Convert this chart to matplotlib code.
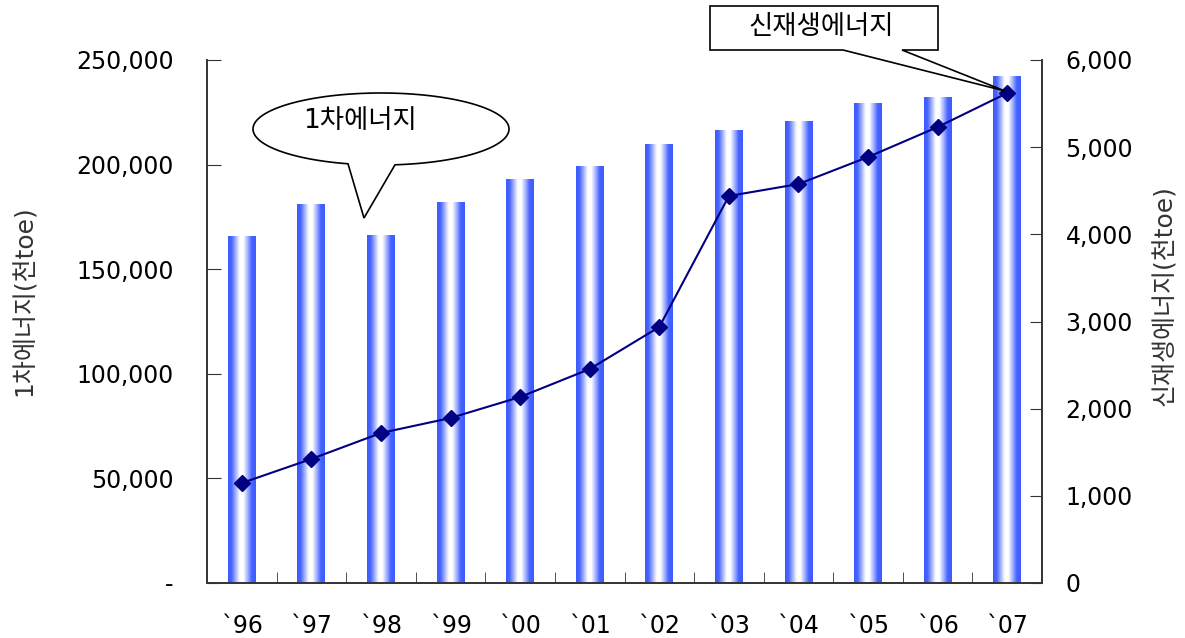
import numpy as np
import matplotlib
matplotlib.use("Agg")
import matplotlib.pyplot as plt
from matplotlib.patches import Polygon
from matplotlib.colors import LinearSegmentedColormap
from matplotlib.ticker import FuncFormatter, FixedLocator

plt.rcParams['font.family'] = ['DejaVu Sans', 'Noto Sans CJK KR']

# dados
anos = ["`96", "`97", "`98", "`99", "`00", "`01", "`02", "`03", "`04", "`05", "`06", "`07"]
energia_primaria = [165400, 180700, 165900, 182100, 193100, 199300,
                    209400, 216100, 220800, 229000, 232300, 241900]
energia_renovavel = [1147, 1423, 1721, 1893, 2134, 2455,
                     2937, 4440, 4577, 4887, 5231, 5621]

W, H = 1185, 638
fig = plt.figure(figsize=(W / 100, H / 100), dpi=100)
ax = fig.add_axes([207 / W, 1 - 583 / H, (1042 - 207) / W, (583 - 60) / H])
ax2 = ax.twinx()

# barras com gradiente azul-branco-azul
cmap = LinearSegmentedColormap.from_list("barra", ["#ffffff", "#3d5cff"])
perfil_x = np.array([0.0, 0.12, 0.25, 0.42, 0.55, 0.7, 0.85, 1.0])
perfil_v = np.array([1.0, 0.95, 0.55, 0.0, 0.0, 0.45, 0.95, 1.0])
grad = np.interp(np.linspace(0, 1, 64), perfil_x, perfil_v).reshape(1, -1)
larg = 0.4
x = np.arange(len(anos))
for xi, v in zip(x, energia_primaria):
    ax.imshow(grad, cmap=cmap, vmin=0, vmax=1, aspect="auto",
              extent=[xi - larg / 2, xi + larg / 2, 0, v], zorder=2,
              interpolation="bilinear")

ax.set_xlim(-0.5, len(anos) - 0.5)
ax.set_ylim(0, 250000)
ax.set_yticks(np.arange(0, 250001, 50000))
ax.yaxis.set_major_formatter(FuncFormatter(lambda v, p: "-" if v == 0 else f"{v:,.0f}"))
ax.set_xticks(x)
ax.set_xticklabels(anos)
ax.xaxis.set_minor_locator(FixedLocator(x[:-1] + 0.5))
ax.tick_params(axis="x", which="major", length=0, labelsize=17, pad=22)
ax.tick_params(axis="x", which="minor", direction="in", length=8, color="#333333")
ax.tick_params(axis="y", direction="in", length=10, labelsize=17, pad=24, color="#333333")
ax.set_ylabel("1차에너지(천toe)", fontsize=18, color="#333333")
ax.yaxis.set_label_coords(-0.204, 0.54)

ax2.plot(x, energia_renovavel, color="#000080", lw=1.5, marker="D",
         markersize=8, zorder=3)
ax2.set_ylim(0, 6000)
ax2.set_yticks(np.arange(0, 6001, 1000))
ax2.yaxis.set_major_formatter(FuncFormatter(lambda v, p: f"{v:,.0f}"))
ax2.tick_params(axis="y", direction="in", length=9, labelsize=17, pad=17, color="#333333")
ax2.set_ylabel("신재생에너지(천toe)", fontsize=18, color="#333333")
ax2.yaxis.set_label_coords(1.132, 0.55)

for a in (ax, ax2):
    a.spines["top"].set_visible(False)
    for s in ("left", "right", "bottom"):
        a.spines[s].set_color("#333333")
        a.spines[s].set_linewidth(1.2)

# camada de anotacoes em pixels
ov = fig.add_axes([0, 0, 1, 1], zorder=10)
ov.set_xlim(0, W)
ov.set_ylim(H, 0)
ov.axis("off")

# balao "1차에너지" (elipse com ponta para baixo)
cx, cy, ra, rb = 381, 129, 128, 36
t_dir = np.arccos((395 - cx) / ra)
t_esq = np.arccos((348 - cx) / ra)
ts = np.linspace(t_esq, t_dir + 2 * np.pi, 300)
pts = [(cx + ra * np.cos(t), cy + rb * np.sin(t)) for t in ts]
pts.append((364, 218))
ov.add_patch(Polygon(pts, closed=True, facecolor="white", edgecolor="black", lw=1.2))
ov.text(360, 121, "1차에너지", fontsize=19, ha="center", va="center")

# caixa "신재생에너지"
caixa = [(710, 6), (938, 6), (938, 50), (902, 50), (1005, 91), (843, 50), (710, 50)]
ov.add_patch(Polygon(caixa, closed=True, facecolor="white", edgecolor="black", lw=1.2))
ov.text(821, 27, "신재생에너지", fontsize=19, ha="center", va="center")

fig.savefig("out.png", dpi=100)
